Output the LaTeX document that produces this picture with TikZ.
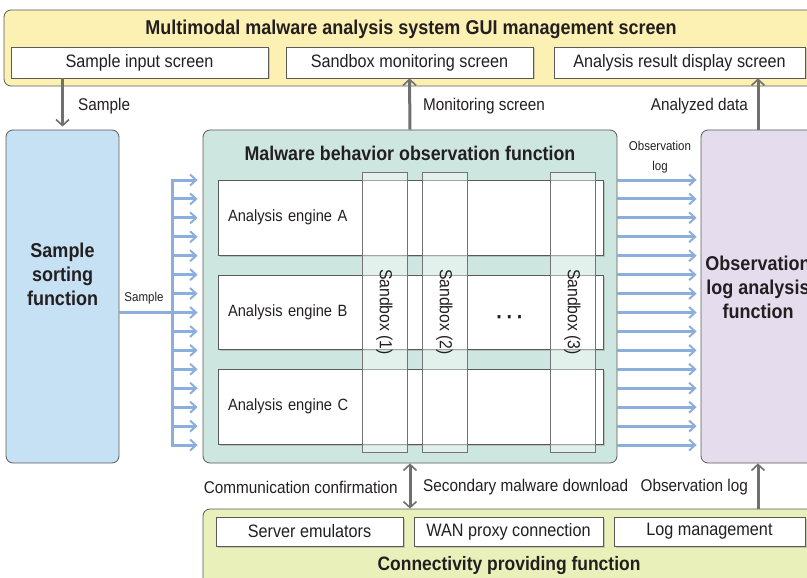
\documentclass[tikz,border=0pt]{standalone}
\usepackage{fontspec}
\setmainfont[FakeStretch=0.9]{Liberation Sans}
\usetikzlibrary{positioning,arrows.meta,shadows}
\definecolor{cGui}{HTML}{FCF1B3}
\definecolor{cSort}{HTML}{C6E1F4}
\definecolor{cObserve}{HTML}{CDE7E0}
\definecolor{cAnalyse}{HTML}{E5DDEE}
\definecolor{cConnect}{HTML}{E9F0B9}
\definecolor{cEdge}{HTML}{5A5A5A}
\definecolor{cFlow}{HTML}{8CAEDD}
\definecolor{cLink}{HTML}{707070}
\definecolor{cInk}{HTML}{231F20}

\begin{document}
\begin{tikzpicture}[x=1pt, y=-1pt, text=cInk,
    gbarb/.tip={Straight Barb[line width=1.6pt, length=6pt, width=13pt]},
    bbarb/.tip={Straight Barb[line width=2pt, length=6pt, width=11pt]},
    fnorm/.style={font=\fontsize{18}{21}\selectfont},
    flabel/.style={font=\fontsize{17}{20}\selectfont, inner sep=0pt},
    fsmall/.style={font=\fontsize{12.8}{20}\selectfont, inner sep=0pt},
    ftitle/.style={font=\bfseries\fontsize{20}{24}\selectfont, inner sep=0pt},
    fhead/.style={font=\bfseries\fontsize{20}{24}\selectfont, inner sep=0pt},
    panel/.style={draw=cEdge, line width=0.8pt, rounded corners=7pt, inner sep=0pt},
    screen/.style={draw=cEdge, fill=white, line width=0.7pt, fnorm, inner sep=0pt,
        minimum height=31pt, drop shadow={opacity=0.35, shadow xshift=1.5pt, shadow yshift=-1.5pt}},
    engine/.style={screen, minimum height=75pt, text width=365pt, align=left, inner xsep=10pt,
        font=\fontsize{16.3}{19}\selectfont},
    sandbox/.style={draw=cEdge!85, line width=0.6pt, fill=white, fill opacity=0.45, text opacity=1,
        rotate=-90, minimum width=280pt, minimum height=45pt, inner sep=0pt, font=\fontsize{17.5}{20}\selectfont},
    link/.style={draw=cLink, line width=3pt, -gbarb},
    flow/.style={draw=cFlow, line width=3pt, -bbarb}]
  \useasboundingbox (0,0) rectangle (807,578);

  \node[panel, fill=cGui, minimum width=811pt, minimum height=76pt] (gui) at (409.5,48) {};
  \node[ftitle] (guititle) at (411,29) {Multimodal malware analysis system GUI management screen};
  \node[screen, minimum width=257pt] (inpscr) at (139.5,62.5) {Sample input screen};
  \node[screen, minimum width=247pt] (monscr) at (409.5,62.5) {Sandbox monitoring screen};
  \node[screen, minimum width=251pt] (resscr) at (679.5,62.5) {Analysis result display screen};

  \node[panel, fill=cSort, minimum width=113pt, minimum height=333pt] (sorter) at (62.5,296.5) {};
  \node[fhead, align=center] (sortname) at (62.5,274) {Sample\\sorting\\function};

  \node[panel, fill=cObserve, minimum width=414pt, minimum height=333pt] (observer) at (410,296.5) {};
  \node[fhead, font=\bfseries\fontsize{19.8}{24}\selectfont] (obstitle) at (410,153) {Malware behavior observation function};
  \node[engine] (engA) at (410.5,217.5) {Analysis engine A};
  \node[engine, minimum height=74pt] (engB) at (410.5,312) {Analysis engine B};
  \node[engine] (engC) at (410.5,406.5) {Analysis engine C};
  \node[sandbox] (sbox1) at (384.5,312) {Sandbox (1)};
  \node[sandbox] (sbox2) at (444.5,312) {Sandbox (2)};
  \node[sandbox] (sbox3) at (572.5,312) {Sandbox (3)};
  \node[font=\bfseries\fontsize{22}{24}\selectfont] (dots) at (510,320) {·\,·\,·};

  \node[panel, fill=cAnalyse, minimum width=114pt, minimum height=333pt] (loganalysis) at (758,296.5) {};
  \node[fhead, align=center] (logname) at (758,287) {Observation\\log analysis\\function};

  \node[panel, fill=cConnect, minimum width=612pt, minimum height=92pt] (conn) at (509,555) {};
  \node[screen, minimum width=187pt, minimum height=29pt] (emu) at (309.5,531.5) {Server emulators};
  \node[screen, minimum width=189pt, minimum height=29pt] (wanproxy) at (508.5,531.5) {WAN proxy connection};
  \node[screen, minimum width=191pt, minimum height=29pt] (logmgmt) at (709.5,531.5) {Log management};
  \node[ftitle, font=\bfseries\fontsize{19.4}{24}\selectfont] (conntitle) at (509,566) {Connectivity providing function};

  \coordinate (busT) at (172,180);
  \coordinate (busB) at (172,445);
  \draw[cFlow, line width=3pt] (sorter.east |- engB) -- (engB -| busT);
  \draw[cFlow, line width=3pt, line cap=rect] (busT) -- (busB);
  \foreach \i in {0,...,14} {
    \coordinate (tap\i) at (172,{180+\i*18.93});
    \draw[flow] (tap\i) -- ([xshift=-5pt]tap\i -| observer.west);
    \draw[flow] (tap\i -| observer.east) -- ([xshift=-4pt]tap\i -| loganalysis.west);
  }
  \node[fsmall] (lblbus) at (144,298) {Sample};
  \node[fsmall, align=center] (lbllog) at (660,157) {Observation\\log};

  \draw[link] (inpscr.south -| sorter.north) -- ([yshift=3pt]sorter.north);
  \draw[link] (observer.north) -- (monscr.south);
  \draw[link] (loganalysis.north) -- (resscr.south -| loganalysis.north);
  \draw[link, gbarb-gbarb] (observer.south) -- (conn.north -| observer.south);
  \draw[link] (conn.north -| loganalysis.south) -- (loganalysis.south);
  \node[flabel, anchor=west] (lblsample) at (78,106) {Sample};
  \node[flabel, anchor=west] (lblmon) at (423,106) {Monitoring screen};
  \node[flabel, anchor=east] (lbldata) at (748,106) {Analyzed data};
  \node[flabel, anchor=east] (lblconf) at (398,487) {Communication confirmation};
  \node[flabel, anchor=west] (lbldown) at (423,487) {Secondary malware download};
  \node[flabel, anchor=east] (lblobs) at (748,487) {Observation log};
\end{tikzpicture}
\end{document}
